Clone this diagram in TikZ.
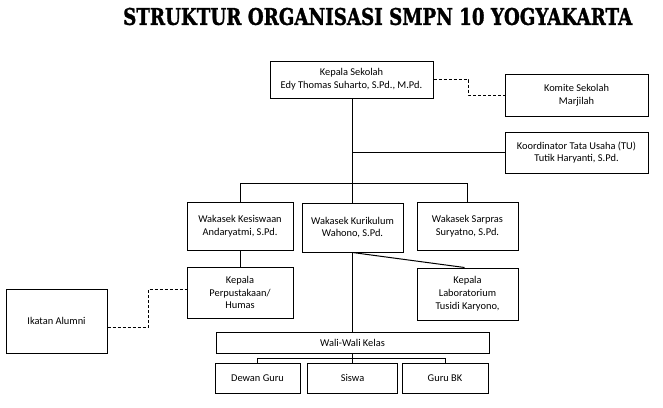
\documentclass[tikz,border=0pt]{standalone}
\usepackage{fontspec}
\setmainfont{Carlito}
\newfontfamily\titlefont[FakeBold=1.5]{DejaVu Serif}
\begin{document}
\begin{tikzpicture}[x=1pt,y=-1pt,
  box/.style={draw,line width=1pt,inner sep=0pt,align=center,font=\fontsize{10.4}{12.8}\selectfont},
  conn/.style={line width=1pt},
  dconn/.style={line width=1pt,dash pattern=on 3pt off 2pt}]
\useasboundingbox (0,0) rectangle (663,407);
\node[anchor=west,inner sep=0pt,font=\titlefont\bfseries] (title) at (123,16.5) {\resizebox{509pt}{17pt}{STRUKTUR ORGANISASI SMPN 10 YOGYAKARTA}};
\node[box,minimum width=163pt,minimum height=37pt] (ks) at (351.5,79.5) {Kepala Sekolah\\Edy Thomas Suharto, S.Pd., M.Pd.};
\node[box,minimum width=143pt,minimum height=42pt] (komite) at (576.5,95) {Komite Sekolah\\Marjilah};
\node[box,minimum width=143pt,minimum height=41pt] (tu) at (576.5,152.5) {Koordinator Tata Usaha (TU)\\Tutik Haryanti, S.Pd.};
\node[box,minimum width=106pt,minimum height=48pt] (wkes) at (240,226) {Wakasek Kesiswaan\\Andaryatmi, S.Pd.};
\node[box,minimum width=101pt,minimum height=49pt] (wkur) at (352.5,227.5) {Wakasek Kurikulum\\Wahono, S.Pd.};
\node[box,minimum width=101pt,minimum height=48pt] (wsar) at (467.5,226) {Wakasek Sarpras\\Suryatno, S.Pd.};
\node[box,minimum width=106pt,minimum height=51pt] (perp) at (240,292.5) {Kepala\\Perpustakaan/\\Humas};
\node[box,minimum width=101pt,minimum height=52pt] (lab) at (467.5,294) {Kepala\\Laboratorium\\Tusidi Karyono,};
\node[box,minimum width=101pt,minimum height=64pt] (alumni) at (56.5,321) {Ikatan Alumni};
\node[box,minimum width=273pt,minimum height=21pt] (wali) at (352.5,342.5) {Wali-Wali Kelas};
\node[box,minimum width=85pt,minimum height=30pt] (dg) at (257.5,378) {Dewan Guru};
\node[box,minimum width=90pt,minimum height=30pt] (siswa) at (352.5,378) {Siswa};
\node[box,minimum width=86pt,minimum height=30pt] (bk) at (445,378) {Guru BK};
% connectors
\coordinate (bar) at (352.5,183.5);
\draw[conn] (bar |- ks.south) -- (wkur.north);
\draw[conn] (bar |- tu.west) -- (tu.west);
\draw[conn] (wkes.north) |- (bar) -| (wsar.north);
\draw[dconn] (ks.east) -- ++(35,0) |- (komite.west);
\draw[conn] (wkes.south) -- (perp.north);
\draw[conn] (wkur.south) -- (wali.north);
\draw[conn] (wkur.south) -- ([xshift=-3pt]lab.north);
\draw[dconn] ([yshift=-6pt]alumni.east) -- ++(41,0) |- ([yshift=3.5pt]perp.west);
\coordinate (lowbar) at (352.5,358.5);
\draw[conn] (wali.south) -- (siswa.north);
\draw[conn] (dg.north) |- (lowbar) -| (bk.north);
\end{tikzpicture}
\end{document}
